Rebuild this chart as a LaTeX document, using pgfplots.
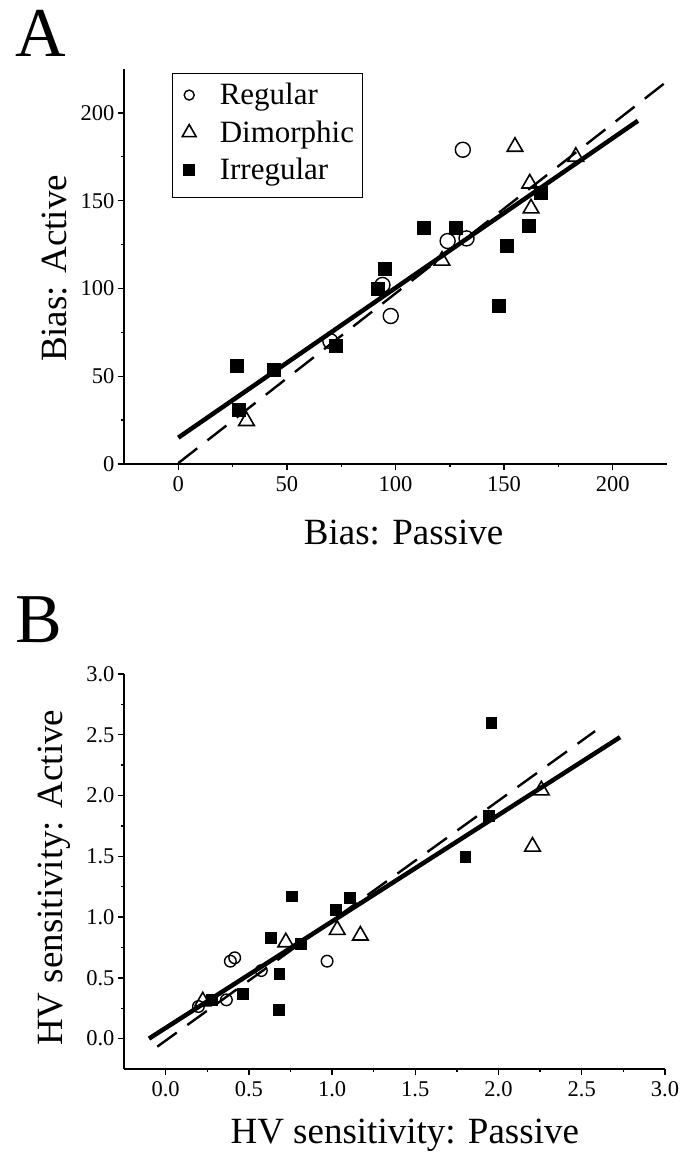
\documentclass[border=0pt]{standalone}
\usepackage{fontspec}
\setmainfont{Liberation Serif}
\usepackage{pgfplots}
\pgfplotsset{compat=1.18}

\pgfplotsset{
  panel/.style={
    scale only axis,
    axis lines*=left,
    axis line style={line width=1.6pt},
    tick align=outside,
    major tick length=6pt,
    minor tick length=3pt,
    every tick/.style={line width=1.4pt, black},
    minor tick num=1,
    tick label style={font=\fontsize{22.5}{22.5}\selectfont},
    xticklabel style={yshift=-3pt},
    label style={font=\fontsize{37}{37}\selectfont},
    /pgf/number format/assume math mode=true,
    clip=false,
  },
  reg/.style={only marks, mark=o, mark size=#1, mark options={line width=1.4pt}},
  dim/.style={only marks, mark=triangle, mark size=#1, mark options={line width=1.6pt}},
  irr/.style={only marks, mark=square*, mark size=#1},
  legmark/.style={legend image code/.code={%
    \draw[##1, mark size=#1] plot coordinates {(0pt,3pt)};
    \path (-8pt,0pt) (30pt,0pt);}},
  fit/.style={no markers, line width=4.5pt},
  ident/.style={no markers, line width=2.4pt, dash pattern=on 24pt off 13pt},
}

\begin{document}
\begin{tikzpicture}
\useasboundingbox (0pt,0pt) rectangle (688pt,1152pt);

% panel A: bias
\begin{axis}[panel,
  at={(124pt,688pt)}, anchor=south west,
  width=543pt, height=395pt,
  xmin=-25, xmax=225, ymin=0, ymax=225,
  xtick={0,50,100,150,200}, ytick={0,50,100,150,200},
  xlabel={Bias: Passive}, ylabel={Bias: Active},
  xlabel style={at={([yshift=-81pt]axis description cs:0.515,0)}, anchor=base},
  ylabel style={at={([xshift=-57pt]axis description cs:0,0.495)}, anchor=base},
  legend cell align=left,
  legend style={at={([xshift=48pt,yshift=-4pt]rel axis cs:0,1)}, anchor=north west,
    draw=black, line width=1.2pt, font=\fontsize{31}{31}\selectfont,
    inner xsep=8pt, inner ysep=10pt,
    nodes={inner sep=0pt, text height=21pt, text depth=8pt},
    row sep=8.5pt, column sep=0pt},
]
\addplot[reg=7.5pt, legmark=5pt]
  coordinates {(131,179) (124,127) (132.7,128.5) (94,102) (97.8,84.3) (70,70)};
\addlegendentry{Regular}
\addplot[dim=9pt, legmark=8pt]
  coordinates {(155,180.7) (183,175) (161.8,159.8) (162.4,145.6) (121.4,115.8) (31.4,24.5)};
\addlegendentry{Dimorphic}
\addplot[irr=6.5pt, legmark=5.5pt]
  coordinates {(167,154.7) (113,134.6) (127.6,134.6) (161.4,135.5) (151,124.3) (94.8,111.4)
    (92,99.7) (147.5,90) (72.6,67.4) (26.7,55.8) (44.1,53.5) (27.7,31.1)};
\addlegendentry{Irregular}
\addplot[ident, forget plot] coordinates {(0,0.5) (225,218)};
\addplot[fit, forget plot] coordinates {(0,15) (211.6,195.5)};
\end{axis}

% panel B: HV sensitivity
\begin{axis}[panel,
  at={(124pt,83pt)}, anchor=south west,
  width=541pt, height=395pt,
  xmin=-0.25, xmax=3, ymin=-0.25, ymax=3,
  xtick={0,0.5,1,1.5,2,2.5,3}, ytick={0,0.5,1,1.5,2,2.5,3},
  /pgf/number format/fixed, /pgf/number format/fixed zerofill,
  /pgf/number format/precision=1,
  xlabel={HV sensitivity: Passive}, ylabel={HV sensitivity: Active},
  xlabel style={at={([yshift=-74pt]axis description cs:0.519,0)}, anchor=base},
  ylabel style={at={([xshift=-62pt]axis description cs:0,0.484)}, anchor=base},
]
\addplot[reg=5.8pt] coordinates {(0.415,0.665) (0.389,0.637) (0.97,0.637) (0.575,0.56) (0.365,0.319) (0.197,0.264)};
\addplot[dim=9pt] coordinates {(2.257,2.043) (2.204,1.58) (1.031,0.895) (1.17,0.848) (0.722,0.793) (0.223,0.307)};
\addplot[irr=5.4pt] coordinates {(1.956,2.597) (1.943,1.837) (1.80,1.50) (0.756,1.172) (1.108,1.159) (1.023,1.060)
  (0.629,0.829) (0.81,0.78) (0.682,0.533) (0.463,0.368) (0.277,0.319) (0.677,0.239)};
\addplot[ident] coordinates {(-0.05,-0.066) (2.58,2.53)};
\addplot[fit] coordinates {(-0.1,0.0) (2.73,2.48)};
\end{axis}

\node[anchor=base west, inner sep=0pt, font=\fontsize{70}{70}\selectfont] at (15pt,1095pt) {A};
\node[anchor=base west, inner sep=0pt, font=\fontsize{70}{70}\selectfont] at (15pt,509pt) {B};
\end{tikzpicture}
\end{document}
